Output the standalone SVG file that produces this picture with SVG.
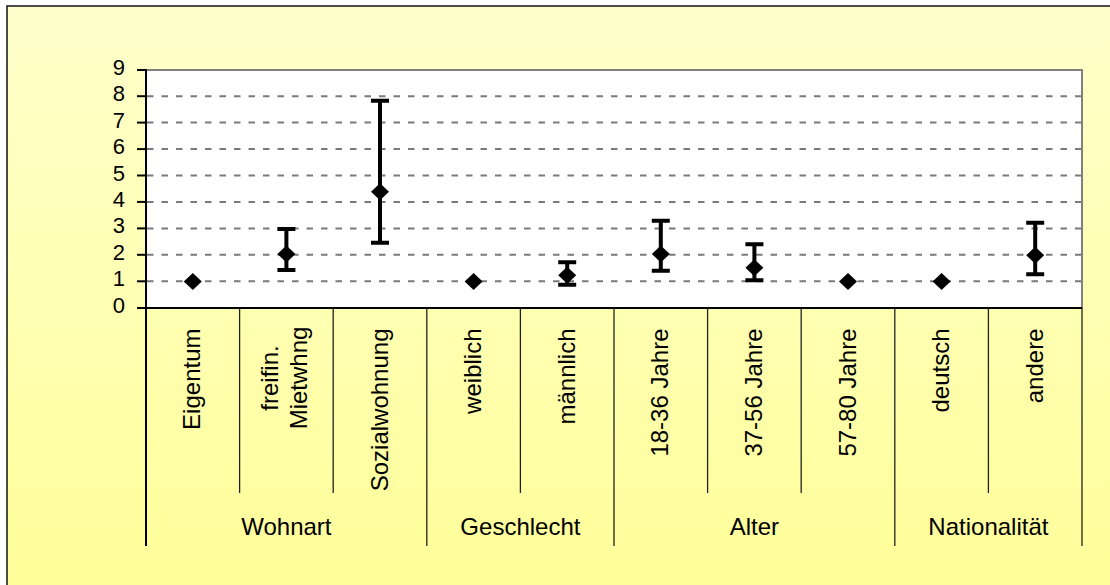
<svg xmlns="http://www.w3.org/2000/svg" width="1110" height="585" viewBox="0 0 1110 585">
<defs>
<linearGradient id="bg" x1="0" y1="0" x2="0" y2="1">
<stop offset="0" stop-color="#FFFFCC"/>
<stop offset="1" stop-color="#FFFF99"/>
</linearGradient>
<style>
text{font-family:"Liberation Sans",Arial,sans-serif;fill:#000}
.ax{font-size:22px;text-anchor:end}
.cat{font-size:24px;text-anchor:end}
.cat2{font-size:24px;text-anchor:middle}
.grp{font-size:24px;text-anchor:middle}
.grid{stroke:#7a7a7a;stroke-width:2;stroke-dasharray:6.5 8;fill:none}
.tick{stroke:#000;stroke-width:2}
.cl{stroke:#222;stroke-width:1.3}
.eb{stroke:#000;stroke-width:4;fill:none}
.dm{fill:#000}
</style>
</defs>
<rect x="0" y="0" width="1110" height="585" fill="#fff"/>
<rect x="7" y="6" width="1110" height="590" fill="url(#bg)" stroke="#111" stroke-width="1.5"/>
<g id="plot">
<rect x="146" y="70" width="936" height="238" fill="#fff" stroke="#808080" stroke-width="2"/>
<g id="gridlines">
<line class="grid" x1="147" y1="96.2" x2="1081" y2="96.2"/>
<line class="grid" x1="147" y1="122.6" x2="1081" y2="122.6"/>
<line class="grid" x1="147" y1="149.1" x2="1081" y2="149.1"/>
<line class="grid" x1="147" y1="175.5" x2="1081" y2="175.5"/>
<line class="grid" x1="147" y1="201.9" x2="1081" y2="201.9"/>
<line class="grid" x1="147" y1="228.4" x2="1081" y2="228.4"/>
<line class="grid" x1="147" y1="254.8" x2="1081" y2="254.8"/>
<line class="grid" x1="147" y1="281.3" x2="1081" y2="281.3"/>
</g>
</g>
<g id="axes">
<line class="tick" x1="146" y1="69" x2="146" y2="546"/>
<line class="tick" x1="137" y1="308" x2="1082" y2="308"/>
<line class="tick" x1="137" y1="70" x2="146" y2="70"/>
<line class="tick" x1="137" y1="96.2" x2="146" y2="96.2"/>
<line class="tick" x1="137" y1="122.6" x2="146" y2="122.6"/>
<line class="tick" x1="137" y1="149.1" x2="146" y2="149.1"/>
<line class="tick" x1="137" y1="175.5" x2="146" y2="175.5"/>
<line class="tick" x1="137" y1="201.9" x2="146" y2="201.9"/>
<line class="tick" x1="137" y1="228.4" x2="146" y2="228.4"/>
<line class="tick" x1="137" y1="254.8" x2="146" y2="254.8"/>
<line class="tick" x1="137" y1="281.3" x2="146" y2="281.3"/>
<text class="ax" x="125" y="75">9</text>
<text class="ax" x="125" y="101.2">8</text>
<text class="ax" x="125" y="127.6">7</text>
<text class="ax" x="125" y="154.1">6</text>
<text class="ax" x="125" y="180.5">5</text>
<text class="ax" x="125" y="206.9">4</text>
<text class="ax" x="125" y="233.4">3</text>
<text class="ax" x="125" y="259.8">2</text>
<text class="ax" x="125" y="286.3">1</text>
<text class="ax" x="125" y="312.7">0</text>
</g>
<g id="category-lines">
<line class="cl" x1="239.6" y1="308" x2="239.6" y2="493"/>
<line class="cl" x1="333.2" y1="308" x2="333.2" y2="493"/>
<line class="cl" x1="426.8" y1="308" x2="426.8" y2="546"/>
<line class="cl" x1="520.4" y1="308" x2="520.4" y2="493"/>
<line class="cl" x1="614" y1="308" x2="614" y2="546"/>
<line class="cl" x1="707.6" y1="308" x2="707.6" y2="493"/>
<line class="cl" x1="801.2" y1="308" x2="801.2" y2="493"/>
<line class="cl" x1="894.8" y1="308" x2="894.8" y2="546"/>
<line class="cl" x1="988.4" y1="308" x2="988.4" y2="493"/>
<line class="cl" x1="1082" y1="308" x2="1082" y2="546"/>
</g>
<g id="cat-labels">
<text class="cat" transform="translate(200.3,328.5) rotate(-90)">Eigentum</text>
<text class="cat2" transform="translate(277.5,378) rotate(-90)">freifin.</text>
<text class="cat2" transform="translate(306.5,378) rotate(-90)">Mietwhng</text>
<text class="cat" transform="translate(387.5,328.5) rotate(-90)">Sozialwohnung</text>
<text class="cat" transform="translate(481.1,328.5) rotate(-90)">weiblich</text>
<text class="cat" transform="translate(574.7,328.5) rotate(-90)">männlich</text>
<text class="cat" transform="translate(668.3,328.5) rotate(-90)">18-36 Jahre</text>
<text class="cat" transform="translate(761.9,328.5) rotate(-90)">37-56 Jahre</text>
<text class="cat" transform="translate(855.5,328.5) rotate(-90)">57-80 Jahre</text>
<text class="cat" transform="translate(949.1,328.5) rotate(-90)">deutsch</text>
<text class="cat" transform="translate(1042.7,328.5) rotate(-90)">andere</text>
</g>
<g id="group-labels">
<text class="grp" x="286.4" y="535">Wohnart</text>
<text class="grp" x="520.4" y="535">Geschlecht</text>
<text class="grp" x="754.4" y="535">Alter</text>
<text class="grp" x="988.4" y="535">Nationalität</text>
</g>
<g id="errorbars">
<path class="eb" d="M286.4 229V270M277.4 229H295.4M277.4 270H295.4"/>
<path class="eb" d="M380 100.7V242.7M371 100.7H389M371 242.7H389"/>
<path class="eb" d="M567.2 262.3V284.7M558.2 262.3H576.2M558.2 284.7H576.2"/>
<path class="eb" d="M660.8 220.7V270.7M651.8 220.7H669.8M651.8 270.7H669.8"/>
<path class="eb" d="M754.4 244.3V280.3M745.4 244.3H763.4M745.4 280.3H763.4"/>
<path class="eb" d="M1035.2 222.7V274.3M1026.2 222.7H1044.2M1026.2 274.3H1044.2"/>
</g>
<g id="markers">
<polygon class="dm" points="183.8,281.5 192.8,273 201.8,281.5 192.8,290"/>
<polygon class="dm" points="277.4,254 286.4,245.5 295.4,254 286.4,262.5"/>
<polygon class="dm" points="371,191.7 380,183.2 389,191.7 380,200.2"/>
<polygon class="dm" points="464.6,281.5 473.6,273 482.6,281.5 473.6,290"/>
<polygon class="dm" points="558.2,275.3 567.2,266.8 576.2,275.3 567.2,283.8"/>
<polygon class="dm" points="651.8,254 660.8,245.5 669.8,254 660.8,262.5"/>
<polygon class="dm" points="745.4,267.7 754.4,259.2 763.4,267.7 754.4,276.2"/>
<polygon class="dm" points="839,281.5 848,273 857,281.5 848,290"/>
<polygon class="dm" points="932.6,281.5 941.6,273 950.6,281.5 941.6,290"/>
<polygon class="dm" points="1026.2,255.3 1035.2,246.8 1044.2,255.3 1035.2,263.8"/>
</g>
</svg>
